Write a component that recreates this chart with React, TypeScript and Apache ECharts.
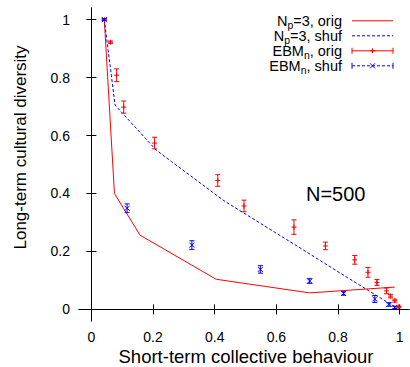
import React, { useEffect, useRef } from 'react';
import * as echarts from 'echarts';

// axis ticks
const xTicks = [0, 0.2, 0.4, 0.6, 0.8, 1];
const yTicks = [0, 0.2, 0.4, 0.6, 0.8, 1];

// N_p=3, orig (solid red line)
const origLineX = [0.042, 0.075, 0.158, 0.405, 0.708, 0.984];
const origLineY = [1.0, 0.4, 0.256, 0.104, 0.057, 0.077];

// N_p=3, shuf (dashed blue line)
const shufLineX = [0.042, 0.077, 0.21, 0.26, 0.43, 0.68, 0.83, 0.99];
const shufLineY = [1.0, 0.705, 0.55, 0.51, 0.375, 0.21, 0.11, 0.005];

// EBM_n, orig (red + with error bars)
const ebmOrigX = [0.042, 0.062, 0.082, 0.105, 0.205, 0.41, 0.495, 0.657, 0.759, 0.854, 0.897, 0.926, 0.957, 0.97, 0.984, 0.997];
const ebmOrigY = [1.0, 0.922, 0.808, 0.698, 0.574, 0.445, 0.357, 0.284, 0.219, 0.171, 0.128, 0.093, 0.064, 0.046, 0.03, 0.009];
const ebmOrigErr = [0.003, 0.004, 0.022, 0.021, 0.02, 0.02, 0.02, 0.025, 0.013, 0.015, 0.017, 0.01, 0.01, 0.006, 0.005, 0.003];

// EBM_n, shuf (blue x with error bars)
const ebmShufX = [0.042, 0.116, 0.326, 0.548, 0.708, 0.818, 0.919, 0.965, 0.984];
const ebmShufY = [1.0, 0.349, 0.222, 0.138, 0.098, 0.055, 0.036, 0.017, 0.007];
const ebmShufErr = [0.003, 0.015, 0.015, 0.013, 0.008, 0.006, 0.012, 0.006, 0.004];

const RED = '#ff0000';
const BLUE = '#0000ff';
const FONT = '"Liberation Sans", Arial, Helvetica, sans-serif';

function markerLines(cx: number, cy: number, kind: string, color: string, s = 2.5) {
  const st = { stroke: color, lineWidth: 1 };
  if (kind === '+') {
    return [
      { type: 'line', shape: { x1: cx - s, y1: cy, x2: cx + s, y2: cy }, style: st },
      { type: 'line', shape: { x1: cx, y1: cy - s, x2: cx, y2: cy + s }, style: st },
    ];
  }
  return [
    { type: 'line', shape: { x1: cx - s, y1: cy - s, x2: cx + s, y2: cy + s }, style: st },
    { type: 'line', shape: { x1: cx - s, y1: cy + s, x2: cx + s, y2: cy - s }, style: st },
  ];
}

function errRender(color: string, kind: string) {
  return (params: any, api: any) => {
    const x = api.value(0);
    const y = api.value(1);
    const e = api.value(2);
    const p = api.coord([x, y]);
    const lo = api.coord([x, y - e]);
    const hi = api.coord([x, y + e]);
    const cw = 2.5;
    const st = { stroke: color, lineWidth: 1 };
    return {
      type: 'group',
      children: [
        { type: 'line', shape: { x1: p[0], y1: lo[1], x2: p[0], y2: hi[1] }, style: st },
        { type: 'line', shape: { x1: p[0] - cw, y1: lo[1], x2: p[0] + cw, y2: lo[1] }, style: st },
        { type: 'line', shape: { x1: p[0] - cw, y1: hi[1], x2: p[0] + cw, y2: hi[1] }, style: st },
        ...markerLines(p[0], p[1], kind, color),
      ],
    };
  };
}

const richLegend = {
  a: { fontSize: 14.5, lineHeight: 14, fontFamily: FONT, fill: '#000' },
  s: { fontSize: 10.5, lineHeight: 10, padding: [8, 0, 0, 0], fontFamily: FONT, fill: '#000' },
};

export default function App() {
  const ref = useRef<HTMLDivElement>(null);
  useEffect(() => {
    if (!ref.current) return;
    const chart = echarts.init(ref.current, undefined, { renderer: 'svg' });
    const axisCommon = {
      type: 'value',
      min: -0.04,
      splitLine: { show: false },
      axisLine: { show: true, lineStyle: { color: '#000', width: 1 } },
    };
    const lx1 = 352, lx2 = 393, lmid = 372.5;
    const rows = [20.8, 35.8, 50.8, 65.8];
    const legendTexts = ['{a|N}{s|p}{a|=3, orig}', '{a|N}{s|p}{a|=3, shuf}', '{a|EBM}{s|n}{a|, orig}', '{a|EBM}{s|n}{a|, shuf}'];
    const graphic: any[] = [];
    legendTexts.forEach((t, i) => {
      graphic.push({
        type: 'text', x: 342, y: rows[i],
        style: { text: t, align: 'right', verticalAlign: 'middle', rich: richLegend, fill: '#000' },
      });
    });
    const rs = { stroke: RED, lineWidth: 1 };
    const bs = { stroke: BLUE, lineWidth: 1, lineDash: [3, 2] };
    const bsolid = { stroke: BLUE, lineWidth: 1 };
    graphic.push({ type: 'line', shape: { x1: lx1, y1: rows[0], x2: lx2, y2: rows[0] }, style: rs });
    graphic.push({ type: 'line', shape: { x1: lx1, y1: rows[1], x2: lx2, y2: rows[1] }, style: bs });
    graphic.push({ type: 'line', shape: { x1: lx1, y1: rows[2], x2: lx2, y2: rows[2] }, style: rs });
    graphic.push({ type: 'line', shape: { x1: lx1, y1: rows[2] - 3, x2: lx1, y2: rows[2] + 3 }, style: rs });
    graphic.push({ type: 'line', shape: { x1: lx2, y1: rows[2] - 3, x2: lx2, y2: rows[2] + 3 }, style: rs });
    markerLines(lmid, rows[2], '+', RED).forEach((m) => graphic.push(m));
    graphic.push({ type: 'line', shape: { x1: lx1, y1: rows[3], x2: lx2, y2: rows[3] }, style: bs });
    graphic.push({ type: 'line', shape: { x1: lx1, y1: rows[3] - 3, x2: lx1, y2: rows[3] + 3 }, style: bsolid });
    graphic.push({ type: 'line', shape: { x1: lx2, y1: rows[3] - 3, x2: lx2, y2: rows[3] + 3 }, style: bsolid });
    markerLines(lmid, rows[3], 'x', BLUE).forEach((m) => graphic.push(m));
    graphic.push({
      type: 'text', x: 306, y: 194,
      style: { text: 'N=500', fontSize: 20, fontFamily: FONT, fill: '#000', align: 'left', verticalAlign: 'middle' },
    });
    graphic.push({
      type: 'text', x: 246, y: 356.5,
      style: { text: 'Short-term collective behaviour', fontSize: 18.5, fontFamily: FONT, fill: '#000', align: 'center', verticalAlign: 'middle' },
    });
    graphic.push({
      type: 'text', x: 20, y: 147.5, rotation: Math.PI / 2,
      style: { text: 'Long-term cultural diversity', fontSize: 17, fontFamily: FONT, fill: '#000', align: 'center', verticalAlign: 'middle' },
    });

    chart.setOption({
      animation: false,
      backgroundColor: '#fff',
      grid: { left: 79, right: 1, top: 8, bottom: 46, containLabel: false },
      xAxis: [
        {
          ...axisCommon, max: 1.03, position: 'bottom',
          axisTick: { show: true, inside: true, length: 5, customValues: xTicks, lineStyle: { color: '#000' } },
          axisLabel: { show: true, customValues: xTicks, margin: 9, fontSize: 14, fontFamily: FONT, color: '#000', formatter: (v: number) => String(Number(v.toFixed(2))) },
        },
        {
          ...axisCommon, max: 1.03, position: 'top',
          axisTick: { show: true, inside: true, length: 5, customValues: xTicks, lineStyle: { color: '#000' } },
          axisLabel: { show: false },
        },
      ],
      yAxis: [
        {
          ...axisCommon, max: 1.04, position: 'left',
          axisTick: { show: true, inside: true, length: 5, customValues: yTicks, lineStyle: { color: '#000' } },
          axisLabel: { show: true, customValues: yTicks, margin: 9, fontSize: 14, fontFamily: FONT, color: '#000', formatter: (v: number) => String(Number(v.toFixed(2))) },
        },
        {
          ...axisCommon, max: 1.04, position: 'right',
          axisTick: { show: true, inside: true, length: 5, customValues: yTicks, lineStyle: { color: '#000' } },
          axisLabel: { show: false },
        },
      ],
      series: [
        {
          name: 'N_p=3, orig', type: 'line', symbol: 'none',
          data: origLineX.map((x, i) => [x, origLineY[i]]),
          lineStyle: { color: RED, width: 1, type: 'solid' },
          z: 2,
        },
        {
          name: 'N_p=3, shuf', type: 'line', symbol: 'none',
          data: shufLineX.map((x, i) => [x, shufLineY[i]]),
          lineStyle: { color: BLUE, width: 1, type: [3, 2] },
          z: 2,
        },
        {
          name: 'EBM_n, orig', type: 'custom',
          renderItem: errRender(RED, '+'),
          encode: { x: 0, y: 1 },
          data: ebmOrigX.map((x, i) => [x, ebmOrigY[i], ebmOrigErr[i]]),
          z: 3,
        },
        {
          name: 'EBM_n, shuf', type: 'custom',
          renderItem: errRender(BLUE, 'x'),
          encode: { x: 0, y: 1 },
          data: ebmShufX.map((x, i) => [x, ebmShufY[i], ebmShufErr[i]]),
          z: 4,
        },
      ],
      graphic,
    });
    return () => chart.dispose();
  }, []);
  return <div ref={ref} style={{ position: 'fixed', left: 0, top: 0, width: 410, height: 367 }} />;
}
